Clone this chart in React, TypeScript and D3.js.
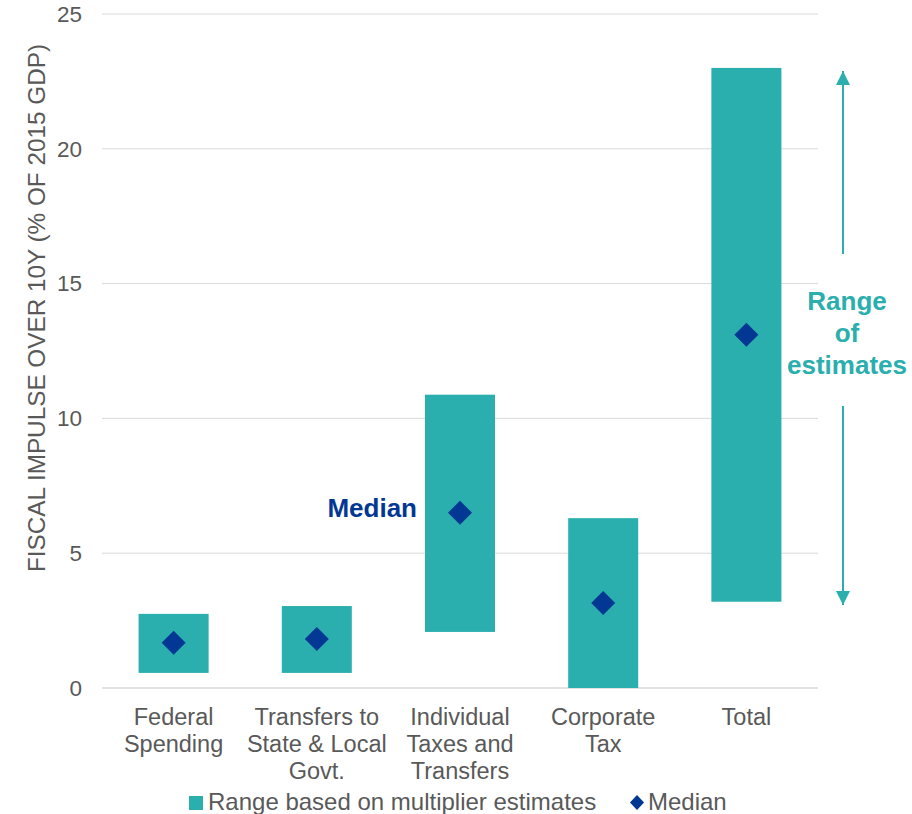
import React from "react";
import * as d3 from "d3";

const categories = [
  ["Federal", "Spending"],
  ["Transfers to", "State & Local", "Govt."],
  ["Individual", "Taxes and", "Transfers"],
  ["Corporate", "Tax"],
  ["Total"],
];
const rangeLow = [0.56, 0.56, 2.08, 0, 3.2];
const rangeHigh = [2.75, 3.04, 10.88, 6.3, 23.0];
const medians = [1.68, 1.82, 6.5, 3.15, 13.1];
const yTicks = [0, 5, 10, 15, 20, 25];

const TEAL = "#2AAEAE";
const NAVY = "#023893";
const GRAY = "#595959";
const FONT = "Liberation Sans, Arial, sans-serif";

export default function App() {
  const W = 912, H = 814;
  const x = d3.scaleBand<number>().domain(d3.range(categories.length)).range([102, 818]).paddingInner(0.511).paddingOuter(0.2555);
  const y = d3.scaleLinear().domain([0, 25]).range([688, 14]);
  const bw = x.bandwidth();
  const arrowX = 843;
  return (
    <svg width={W} height={H} style={{ position: "absolute", left: 0, top: 0, fontFamily: FONT }}>
      <defs>
        <marker id="ah" viewBox="0 0 10 10" refX="10" refY="5" markerWidth="14" markerHeight="16" markerUnits="userSpaceOnUse" orient="auto">
          <path d="M0,0 L10,5 L0,10 z" fill={TEAL} />
        </marker>
      </defs>
      {yTicks.map((t) => (
        <g key={t}>
          <line x1={102} x2={818} y1={y(t)} y2={y(t)} stroke="#D9D9D9" strokeWidth={t === 0 ? 1.5 : 1} />
          <text x={82} y={y(t)} dy="0.35em" textAnchor="end" fontSize={22.5} fill={GRAY}>{t}</text>
        </g>
      ))}
      <text transform={`translate(45,308) rotate(-90)`} textAnchor="middle" fontSize={24.3} fill={GRAY}>
        FISCAL IMPULSE OVER 10Y (% OF 2015 GDP)
      </text>
      {categories.map((c, i) => (
        <rect key={i} x={x(i)} width={bw} y={y(rangeHigh[i])} height={y(rangeLow[i]) - y(rangeHigh[i])} fill={TEAL} />
      ))}
      {medians.map((m, i) => {
        const cx = (x(i) as number) + bw / 2;
        const cy = y(m);
        return <path key={i} d={`M${cx},${cy - 12}L${cx + 12},${cy}L${cx},${cy + 12}L${cx - 12},${cy}Z`} fill={NAVY} />;
      })}
      {categories.map((c, i) => (
        <text key={i} x={(x(i) as number) + bw / 2} y={725} textAnchor="middle" fontSize={23.5} fill={GRAY}>
          {c.map((l, j) => (
            <tspan key={j} x={(x(i) as number) + bw / 2} dy={j === 0 ? 0 : 27}>{l}</tspan>
          ))}
        </text>
      ))}
      <text x={417} y={508} dy="0.35em" textAnchor="end" fontSize={26} fontWeight="bold" fill={NAVY}>Median</text>
      <line x1={arrowX} x2={arrowX} y1={254} y2={71} stroke={TEAL} strokeWidth={2} markerEnd="url(#ah)" />
      <line x1={arrowX} x2={arrowX} y1={406} y2={605} stroke={TEAL} strokeWidth={2} markerEnd="url(#ah)" />
      <text textAnchor="middle" fontSize={26} fontWeight="bold" fill={TEAL}>
        <tspan x={847} y={310}>Range</tspan>
        <tspan x={847} y={342}>of</tspan>
        <tspan x={847} y={374}>estimates</tspan>
      </text>
      <rect x={189} y={796} width={14} height={14} fill={TEAL} />
      <text x={208} y={810} fontSize={24} fill={GRAY}>Range based on multiplier estimates</text>
      <path d={`M637,795L644,802.5L637,810L630,802.5Z`} fill={NAVY} />
      <text x={648} y={810} fontSize={24} fill={GRAY}>Median</text>
    </svg>
  );
}
